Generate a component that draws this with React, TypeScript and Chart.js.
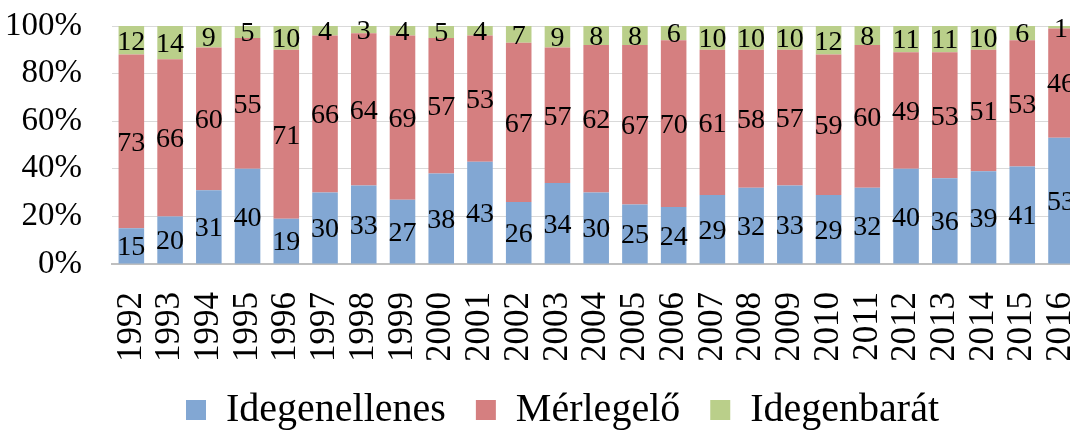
import React, { useEffect, useRef } from "react";
import { Chart, registerables } from "chart.js";

Chart.register(...registerables);

const years = [
  "1992", "1993", "1994", "1995", "1996", "1997", "1998", "1999", "2000",
  "2001", "2002", "2003", "2004", "2005", "2006", "2007", "2008", "2009",
  "2010", "2011", "2012", "2013", "2014", "2015", "2016",
];
const idegenellenes = [15, 20, 31, 40, 19, 30, 33, 27, 38, 43, 26, 34, 30, 25, 24, 29, 32, 33, 29, 32, 40, 36, 39, 41, 53];
const merlegelo = [73, 66, 60, 55, 71, 66, 64, 69, 57, 53, 67, 57, 62, 67, 70, 61, 58, 57, 59, 60, 49, 53, 51, 53, 46];
const idegenbarat = [12, 14, 9, 5, 10, 4, 3, 4, 5, 4, 7, 9, 8, 8, 6, 10, 10, 10, 12, 8, 11, 11, 10, 6, 1];
const yTicks = [0, 20, 40, 60, 80, 100];

const FONT = '"Liberation Serif", "Times New Roman", serif';

const segLabels = {
  id: "segLabels",
  afterDatasetsDraw(chart: any) {
    const ctx = chart.ctx;
    ctx.save();
    ctx.font = `28px ${FONT}`;
    ctx.fillStyle = "#000";
    ctx.textAlign = "center";
    ctx.textBaseline = "middle";
    chart.data.datasets.forEach((ds: any, i: number) => {
      const meta = chart.getDatasetMeta(i);
      meta.data.forEach((el: any, j: number) => {
        const p = el.getProps(["x", "y", "base"], true);
        ctx.fillText(String(ds.data[j]), p.x, (p.y + p.base) / 2 + 2);
      });
    });
    ctx.restore();
  },
};

export default function App() {
  const ref = useRef<HTMLCanvasElement | null>(null);
  useEffect(() => {
    if (!ref.current) return;
    const chart = new Chart(ref.current, {
      type: "bar",
      data: {
        labels: years,
        datasets: [
          { label: "Idegenellenes", data: idegenellenes, backgroundColor: "#82A7D3" },
          { label: "Mérlegelő", data: merlegelo, backgroundColor: "#D57F80" },
          { label: "Idegenbarát", data: idegenbarat, backgroundColor: "#BACF8A" },
        ],
      },
      options: {
        responsive: false,
        animation: false,
        layout: { padding: { left: 2, top: 26, right: 0, bottom: 0 } },
        datasets: { bar: { categoryPercentage: 1, barPercentage: 0.66 } },
        plugins: {
          tooltip: { enabled: false },
          legend: {
            position: "bottom",
            labels: {
              font: { family: FONT, size: 40 },
              color: "#000",
              boxWidth: 20,
              boxHeight: 20,
              padding: 30,
            },
          },
        },
        scales: {
          x: {
            stacked: true,
            grid: { display: false },
            border: { display: true, color: "#BFBFBF", width: 2 },
            ticks: {
              font: { family: FONT, size: 35 },
              color: "#000",
              maxRotation: 90,
              minRotation: 90,
              padding: 20,
              autoSkip: false,
            },
            afterFit: (s: any) => {
              s.height = 96;
            },
          },
          y: {
            stacked: true,
            min: 0,
            max: 100,
            afterBuildTicks: (s: any) => {
              s.ticks = yTicks.map((v) => ({ value: v }));
            },
            grid: {
              color: "#D9D9D9",
              lineWidth: 1,
              drawTicks: true,
              tickLength: 27,
              tickColor: "rgba(0,0,0,0)",
            },
            border: { display: false },
            ticks: {
              font: { family: FONT, size: 33 },
              color: "#000",
              padding: 3,
              autoSkip: false,
              callback: (v: any) => `${v}%`,
            },
          },
        },
      },
      plugins: [segLabels],
    } as any);
    return () => chart.destroy();
  }, []);
  return (
    <div style={{ position: "fixed", left: 0, top: 0, width: 1070, height: 430, overflow: "hidden", background: "#fff" }}>
      <canvas ref={ref} width={1123} height={440} style={{ width: 1123, height: 440, display: "block" }} />
    </div>
  );
}
